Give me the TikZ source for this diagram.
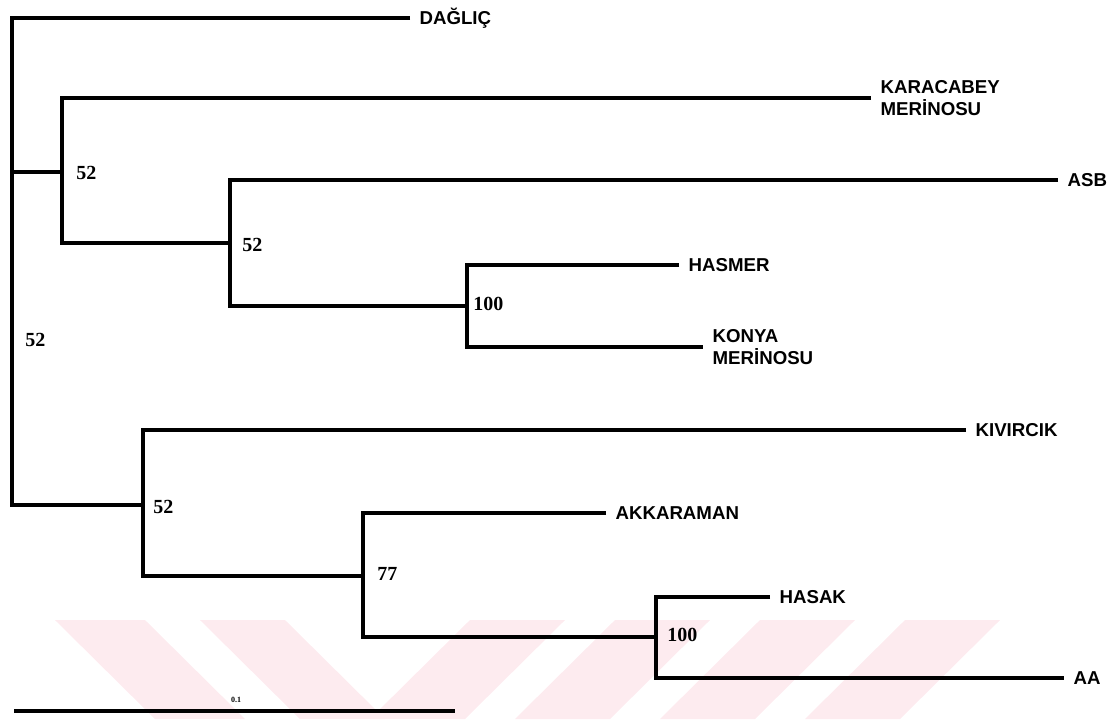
\documentclass[tikz,border=0pt]{standalone}
\usepackage{fontspec}
\setmainfont{Liberation Sans}
\newfontfamily\numfont{Liberation Serif}
\definecolor{wm}{RGB}{253,235,239}
\begin{document}
\begin{tikzpicture}[x=0.75pt,y=-0.75pt,
  br/.style={line width=2.3pt, line join=miter},
  leaf/.style={anchor=west, inner xsep=7pt, inner ysep=0pt,
    font=\bfseries\fontsize{14pt}{17pt}\selectfont, text height=10pt, text depth=0pt},
  leaftwo/.style={anchor=west, inner xsep=7pt, inner ysep=0pt,
    font=\bfseries\fontsize{14pt}{17pt}\selectfont, align=left},
  bs/.style={anchor=west, inner sep=0pt,
    font=\numfont\bfseries\fontsize{15pt}{17pt}\selectfont, text height=10pt, text depth=0pt},
  wmark/.style={fill=wm, draw=none}]
\useasboundingbox (0,0) rectangle (1112,719);
% watermark
\fill[wmark] (55,620) -- (145,620) -- (245,719) -- (155,719) -- cycle;
\fill[wmark] (200,620) -- (285,620) -- (385,719) -- (300,719) -- cycle;
\fill[wmark] (470,620) -- (565,620) -- (465,719) -- (370,719) -- cycle;
\fill[wmark] (615,620) -- (710,620) -- (610,719) -- (515,719) -- cycle;
\fill[wmark] (760,620) -- (855,620) -- (755,719) -- (660,719) -- cycle;
\fill[wmark] (905,620) -- (1000,620) -- (900,719) -- (805,719) -- cycle;
% internal nodes
\coordinate (rm) at (12,172);
\coordinate (rb) at (12,505);
\coordinate (nA) at (62,172);
\coordinate (nB) at (230,243);
\coordinate (nC) at (467,306);
\coordinate (nD) at (143,505);
\coordinate (nE) at (363,576);
\coordinate (nF) at (656,637);
% leaves
\node[leaf] (dag) at (410,18) {DAĞLIÇ};
\node[leaftwo] (kar) at (871,98) {KARACABEY\\MERİNOSU};
\node[leaf] (asb) at (1058,180) {ASB};
\node[leaf] (has) at (679,265) {HASMER};
\node[leaftwo] (kon) at (703,347) {KONYA\\MERİNOSU};
\node[leaf] (kiv) at (966,430) {KIVIRCIK};
\node[leaf] (akk) at (606,513) {AKKARAMAN};
\node[leaf] (hsk) at (770,597) {HASAK};
\node[leaf] (aa) at (1064,678) {AA};
% branches
\draw[br] (dag.west) -| (rb) -- (nD);
\draw[br] (rm) -- (nA);
\draw[br] (kar.west) -| (nA) |- (nB);
\draw[br] (asb.west) -| (nB) |- (nC);
\draw[br] (has.west) -| (nC) |- (kon.west);
\draw[br] (kiv.west) -| (nD) |- (nE);
\draw[br] (akk.west) -| (nE) |- (nF);
\draw[br] (hsk.west) -| (nF) |- (aa.west);
% bootstrap values
\node[bs] (bA) at (76,173) {52};
\node[bs] (bB) at (242,245) {52};
\node[bs] (bC) at (473,304) {100};
\node[bs] (bR) at (25,340) {52};
\node[bs] (bD) at (153,507) {52};
\node[bs] (bE) at (377,574) {77};
\node[bs] (bF) at (667,635) {100};
% scale bar
\coordinate (s0) at (14,711);
\coordinate (s1) at (455,711);
\draw[line width=2.6pt] (s0) -- (s1);
\node[inner sep=0pt, font=\numfont\bfseries\fontsize{6pt}{7pt}\selectfont] (sl) at (236,700) {0.1};
\end{tikzpicture}
\end{document}
